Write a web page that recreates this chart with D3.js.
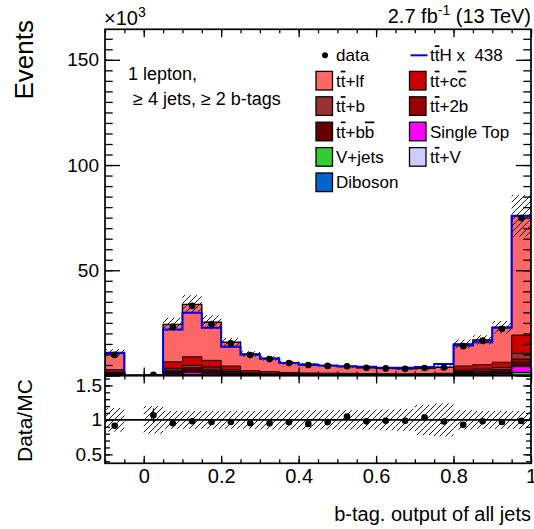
<!DOCTYPE html>
<html><head><meta charset="utf-8">
<script src="https://cdn.jsdelivr.net/npm/d3@7"></script>
<style>
body{margin:0;background:#fff;}
svg text{font-family:"Liberation Sans",Arial,Helvetica,sans-serif;fill:#000;}
</style></head><body>
<svg id="chart" width="534" height="529"></svg>
<script>
// ---------------- data (thousands of events) ----------------
const binLow = [-0.1,-0.05,0,0.05,0.1,0.15,0.2,0.25,0.3,0.35,0.4,0.45,0.5,0.55,0.6,0.65,0.7,0.75,0.8,0.85,0.9,0.95];
const binWidth = 0.05;
const ttlf      = [7.9,0,0.2,17.8,24.9,18.1,11.3,7.9,6.4,4.7,4.1,3.6,3.2,2.8,2.55,2.4,2.5,2.85,10.5,11.7,16.6,56.7];
const ttcc      = [1.2,0,0.04,3.1,4.1,3.2,1.9,1.1,0.9,0.7,0.6,0.55,0.5,0.45,0.42,0.4,0.45,0.5,1.9,2.2,2.5,8.7];
const ttb       = [0.4,0,0.02,0.9,1.2,1.0,0.7,0.3,0.25,0.2,0.18,0.16,0.15,0.14,0.13,0.12,0.14,0.17,0.7,0.8,1.0,2.7];
const tt2b      = [0.3,0,0.01,0.7,1.0,0.9,0.6,0.25,0.2,0.15,0.13,0.12,0.11,0.1,0.1,0.1,0.11,0.13,0.5,0.6,0.8,1.5];
const ttbb      = [0.3,0,0.01,0.7,1.0,0.9,0.5,0.25,0.2,0.15,0.13,0.12,0.11,0.1,0.1,0.1,0.11,0.13,0.6,0.7,0.9,1.6];
const singleTop = [0.4,0,0.01,0.8,1.0,0.9,0.6,0.3,0.2,0.15,0.12,0.11,0.1,0.08,0.07,0.06,0.07,0.1,0.5,0.6,0.8,2.7];
const vjets     = [0.15,0,0.01,0.2,0.3,0.2,0.15,0.08,0.05,0.05,0.04,0.04,0.03,0.03,0.03,0.02,0.02,0.02,0.15,0.15,0.2,1.4];
const ttV       = [0.03,0,0,0.07,0.2,0.07,0.04,0.02,0.01,0.01,0.01,0.01,0.01,0.01,0.01,0.01,0.01,0.01,0.1,0.1,0.07,0.5];
const diboson   = [0.02,0,0,0.03,0.1,0.03,0.01,0,0,0,0,0,0,0,0,0,0,0,0.05,0.05,0.03,0.1];
const dataVals  = [9.8,null,0.32,23.1,33.1,24.5,15.3,9.7,7.8,5.9,5.0,4.56,4.41,3.63,3.37,3.17,3.54,3.82,13.95,16.56,22.2,74.8];
const ttH438    = [10.8,0,0.2,21.9,29.8,22.7,13.7,9.9,7.9,5.9,5.0,4.7,4.4,4.2,3.7,3.7,4.0,5.5,14.2,15.8,22.7,75.9];
const relUnc    = [0.17,0,0.2,0.13,0.13,0.13,0.13,0.13,0.14,0.14,0.14,0.14,0.14,0.14,0.15,0.16,0.22,0.24,0.14,0.13,0.13,0.13];
const ratioErr  = [0.01,0,0.1,0,0,0,0,0,0,0,0,0,0,0,0,0,0,0,0,0,0,0];
const xTickLabels = [0,0.2,0.4,0.6,0.8,1];
const yTickLabels = [50,100,150];
const ratioTickLabels = [0.5,1,1.5];

// ---------------- layout ----------------
const L=105, R=531, T=29.3, MB=375.5, RB=463.3;
const x  = d3.scaleLinear().domain([-0.1,1.0]).range([L,R]);
const y  = d3.scaleLinear().domain([0,164.5]).range([MB,T]);
const yr = d3.scaleLinear().domain([0.37,1.644]).range([RB,MB]);

const svg = d3.select("#chart");
const defs = svg.append("defs");
const pat = defs.append("pattern").attr("id","hatch").attr("patternUnits","userSpaceOnUse").attr("width",6).attr("height",6);
pat.append("path").attr("d","M-1,1 l2,-2 M0,6 l6,-6 M5,7 l2,-2").attr("stroke","#000").attr("stroke-width",0.9);
defs.append("clipPath").attr("id","clipMain").append("rect").attr("x",L).attr("y",T).attr("width",R-L).attr("height",MB-T);
defs.append("clipPath").attr("id","clipRatio").append("rect").attr("x",L).attr("y",MB).attr("width",R-L).attr("height",RB-MB);

const series = [
  {key:"diboson", vals:diboson, color:"#0066cc"},
  {key:"vjets", vals:vjets, color:"#33cc33"},
  {key:"singleTop", vals:singleTop, color:"#ff00ff"},
  {key:"ttV", vals:ttV, color:"#ccccff"},
  {key:"ttbb", vals:ttbb, color:"#660000"},
  {key:"tt2b", vals:tt2b, color:"#990000"},
  {key:"ttb", vals:ttb, color:"#993333"},
  {key:"ttcc", vals:ttcc, color:"#cc0000"},
  {key:"ttlf", vals:ttlf, color:"#ff6666"}
];
const colorOf = Object.fromEntries(series.map(s=>[s.key,s.color]));
const table = binLow.map((b,i)=>{const o={}; series.forEach(s=>o[s.key]=s.vals[i]); return o;});
const stacked = d3.stack().keys(series.map(s=>s.key))(table);
const total = table.map((d,i)=>d3.sum(series,s=>s.vals[i]));
const bins = binLow.map((b,i)=>({i, lo:b, c:b+binWidth/2, tot:total[i], data:dataVals[i], unc:relUnc[i], rerr:ratioErr[i]}));

function stepLine(vals, sc){
  let p = `M${x(binLow[0])},${sc(0)}`;
  vals.forEach((v,i)=>{ p += `V${sc(v)}H${x(binLow[i]+binWidth)}`; });
  return p + `V${sc(0)}`;
}
function stepArea(lo, hi){
  let p = `M${x(binLow[0])},${y(lo[0])}`;
  hi.forEach((v,i)=>{ p += `L${x(binLow[i])},${y(v)}L${x(binLow[i]+binWidth)},${y(v)}`; });
  for(let i=lo.length-1;i>=0;i--){ p += `L${x(binLow[i]+binWidth)},${y(lo[i])}L${x(binLow[i])},${y(lo[i])}`; }
  return p+"Z";
}

// ---------------- main pad ----------------
const gm = svg.append("g").attr("clip-path","url(#clipMain)");
stacked.forEach(layer=>{
  gm.append("path").attr("d",stepArea(layer.map(d=>d[0]),layer.map(d=>d[1])))
    .attr("fill",colorOf[layer.key]).attr("stroke","none");
});
stacked.forEach((layer,li)=>{
  gm.append("path").attr("d",stepLine(layer.map(d=>d[1]),y))
    .attr("fill","none").attr("stroke","#000").attr("stroke-width", li===stacked.length-1?1.4:1);
});
// uncertainty hatch
gm.selectAll("rect.unc").data(bins.filter(d=>d.tot>0)).enter().append("rect")
  .attr("x",d=>x(d.lo)).attr("width",x(binWidth)-x(0))
  .attr("y",d=>y(d.tot*(1+d.unc)))
  .attr("height",d=>y(d.tot*(1-d.unc))-y(d.tot*(1+d.unc)))
  .attr("fill","url(#hatch)");
// signal line
gm.append("path").attr("d",stepLine(ttH438,y)).attr("fill","none").attr("stroke","#0000ee").attr("stroke-width",2);
// data
gm.selectAll("circle.d").data(bins.filter(d=>d.data!=null)).enter()
  .append("circle").attr("cx",d=>x(d.c)).attr("cy",d=>y(d.data)).attr("r",3.3).attr("fill","#000");

// ---------------- ratio pad ----------------
const gr = svg.append("g").attr("clip-path","url(#clipRatio)");
gr.selectAll("rect.unc").data(bins.filter(d=>d.tot>0)).enter().append("rect")
  .attr("x",d=>x(d.lo)).attr("width",x(binWidth)-x(0))
  .attr("y",d=>yr(1+d.unc)).attr("height",d=>yr(1-d.unc)-yr(1+d.unc))
  .attr("fill","url(#hatch)");
gr.append("line").attr("x1",L).attr("x2",R).attr("y1",yr(1)).attr("y2",yr(1)).attr("stroke","#000").attr("stroke-width",1.6);
const rb = bins.filter(d=>d.data!=null && d.tot>0);
gr.selectAll("line.err").data(rb.filter(d=>d.rerr>0.02)).enter().append("line")
  .attr("x1",d=>x(d.c)).attr("x2",d=>x(d.c))
  .attr("y1",d=>yr(d.data/d.tot+d.rerr)).attr("y2",d=>yr(d.data/d.tot-d.rerr))
  .attr("stroke","#000").attr("stroke-width",1.2);
gr.selectAll("circle.r").data(rb).enter().append("circle")
  .attr("cx",d=>x(d.c)).attr("cy",d=>yr(d.data/d.tot)).attr("r",3.3).attr("fill","#000");

// ---------------- axes ----------------
const fontAx = "20px";
function styleAxis(g, size){
  g.attr("font-family",null).attr("font-size",null);
  g.select(".domain").remove();
  g.selectAll("line").attr("stroke","#000").attr("stroke-width",1.3);
  g.selectAll("text").style("font-size",size);
}
const xMinor = d3.range(-0.1,1.0001,0.05);
const yMinor = d3.range(0,164,5);
const rMinor = d3.range(0.4,1.61,0.1);
// main y
styleAxis(svg.append("g").attr("transform",`translate(${L},0)`).call(d3.axisLeft(y).tickValues(yMinor).tickSizeInner(-7.7).tickSizeOuter(0).tickFormat("")),fontAx);
styleAxis(svg.append("g").attr("transform",`translate(${L},0)`).call(d3.axisLeft(y).tickValues([0].concat(yTickLabels)).tickSizeInner(-15).tickSizeOuter(0).tickPadding(6).tickFormat(d=>d===0?"":d)),"19px");
styleAxis(svg.append("g").attr("transform",`translate(${R},0)`).call(d3.axisRight(y).tickValues(yMinor).tickSizeInner(-7.7).tickSizeOuter(0).tickFormat("")),fontAx);
styleAxis(svg.append("g").attr("transform",`translate(${R},0)`).call(d3.axisRight(y).tickValues([0].concat(yTickLabels)).tickSizeInner(-15).tickSizeOuter(0).tickFormat("")),fontAx);
// x ticks on main top/bottom and ratio top/bottom
[[T,d3.axisTop],[MB,d3.axisBottom],[MB,d3.axisTop],[RB,d3.axisBottom]].forEach(([yy,ax])=>{
  styleAxis(svg.append("g").attr("transform",`translate(0,${yy})`).call(ax(x).tickValues(xMinor).tickSizeInner(-4).tickSizeOuter(0).tickFormat("")),fontAx);
});
[[T,d3.axisTop],[MB,d3.axisBottom],[MB,d3.axisTop]].forEach(([yy,ax])=>{
  styleAxis(svg.append("g").attr("transform",`translate(0,${yy})`).call(ax(x).tickValues(xTickLabels).tickSizeInner(-8).tickSizeOuter(0).tickFormat("")),fontAx);
});
styleAxis(svg.append("g").attr("transform",`translate(0,${RB})`).call(d3.axisBottom(x).tickValues(xTickLabels).tickSizeInner(-7.5).tickSizeOuter(0).tickPadding(6).tickFormat(d=>String(d))),fontAx);
// ratio y
styleAxis(svg.append("g").attr("transform",`translate(${L},0)`).call(d3.axisLeft(yr).tickValues(rMinor).tickSizeInner(-5).tickSizeOuter(0).tickFormat("")),fontAx);
styleAxis(svg.append("g").attr("transform",`translate(${L},0)`).call(d3.axisLeft(yr).tickValues(ratioTickLabels).tickSizeInner(-7.7).tickSizeOuter(0).tickPadding(3).tickFormat(d=>String(d))),"19px");
styleAxis(svg.append("g").attr("transform",`translate(${R},0)`).call(d3.axisRight(yr).tickValues(rMinor).tickSizeInner(-5).tickSizeOuter(0).tickFormat("")),fontAx);
styleAxis(svg.append("g").attr("transform",`translate(${R},0)`).call(d3.axisRight(yr).tickValues(ratioTickLabels).tickSizeInner(-7.7).tickSizeOuter(0).tickFormat("")),fontAx);

// frames
svg.append("rect").attr("x",L).attr("y",T).attr("width",R-L).attr("height",MB-T).attr("fill","none").attr("stroke","#000").attr("stroke-width",1.7);
svg.append("rect").attr("x",L).attr("y",MB).attr("width",R-L).attr("height",RB-MB).attr("fill","none").attr("stroke","#000").attr("stroke-width",1.7);

// ---------------- titles ----------------
svg.append("text").attr("transform","translate(33,20) rotate(-90)").attr("text-anchor","end").style("font-size","26px").text("Events");
svg.append("text").attr("transform","translate(32,420.6) rotate(-90)").attr("text-anchor","middle").style("font-size","21px").text("Data/MC");
svg.append("text").attr("x",531).attr("y",521).attr("text-anchor","end").style("font-size","20px").text("b-tag. output of all jets");
const mult = svg.append("text").attr("x",104).attr("y",25).style("font-size","20px");
mult.append("tspan").text("×10");
mult.append("tspan").attr("dy",-8).style("font-size","14px").text("3");
const lumi = svg.append("text").attr("x",531).attr("y",23.3).attr("text-anchor","end").style("font-size","20px");
lumi.append("tspan").text("2.7 fb");
lumi.append("tspan").attr("dy",-8).style("font-size","14px").text("-1");
lumi.append("tspan").attr("dy",8).text(" (13 TeV)");
svg.append("text").attr("x",128).attr("y",80).style("font-size","18px").text("1 lepton,");
svg.append("text").attr("x",133).attr("y",104.5).style("font-size","18px").text("≥ 4 jets, ≥ 2 b-tags");

// ---------------- legend ----------------
const rowY = [55.3,80.7,106.1,131.5,156.9,182.3];
function ttLabel(sel, rest, barRest){
  sel.append("tspan").text("t");
  sel.append("tspan").style("text-decoration","overline").text("t");
  if(barRest){
    sel.append("tspan").text(rest.slice(0,-1));
    sel.append("tspan").style("text-decoration","overline").text(rest.slice(-1));
  } else sel.append("tspan").text(rest);
}
const leg = svg.append("g").style("font-size","17px");
const col1 = [
  {type:"dot",text:"data"},
  {type:"box",key:"ttlf",tt:"+lf"},
  {type:"box",key:"ttb",tt:"+b"},
  {type:"box",key:"ttbb",tt:"+bb",bar:true},
  {type:"box",key:"vjets",text:"V+jets"},
  {type:"box",key:"diboson",text:"Diboson"}
];
const col2 = [
  {type:"line",tt:"H x  438"},
  {type:"box",key:"ttcc",tt:"+cc",bar:true},
  {type:"box",key:"tt2b",tt:"+2b"},
  {type:"box",key:"singleTop",text:"Single Top"},
  {type:"box",key:"ttV",tt:"+V"}
];
function drawCol(items, bx, tx){
  items.forEach((it,i)=>{
    const cy = rowY[i];
    if(it.type==="dot") leg.append("circle").attr("cx",bx+9).attr("cy",cy).attr("r",3).attr("fill","#000");
    else if(it.type==="line") leg.append("line").attr("x1",bx+1).attr("x2",bx+18).attr("y1",cy).attr("y2",cy).attr("stroke","#0000ee").attr("stroke-width",2);
    else leg.append("rect").attr("x",bx).attr("y",cy-9.3).attr("width",16.5).attr("height",18.6)
      .attr("fill",colorOf[it.key]).attr("stroke","#000").attr("stroke-width",1.3);
    const t = leg.append("text").attr("x",tx).attr("y",cy+6).attr("xml:space","preserve").style("white-space","pre");
    if(it.tt) ttLabel(t, it.tt, it.bar); else t.text(it.text);
  });
}
drawCol(col1, 316, 336);
drawCol(col2, 409.5, 430);
</script>
</body></html>
